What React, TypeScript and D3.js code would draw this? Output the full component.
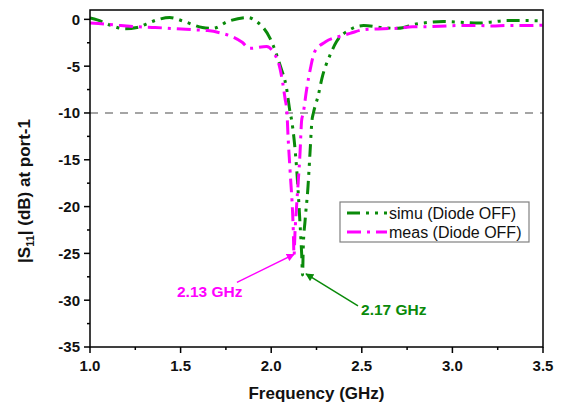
import React from "react";
import * as d3 from "d3";

const simuFreq = [1.0, 1.04, 1.11, 1.19, 1.26, 1.31, 1.37, 1.44, 1.52, 1.62, 1.68, 1.76, 1.87, 1.92, 1.993, 2.049, 2.085, 2.104, 2.113, 2.141, 2.159, 2.168, 2.173, 2.177, 2.187, 2.203, 2.214, 2.225, 2.233, 2.26, 2.28, 2.325, 2.36, 2.435, 2.51, 2.62, 2.70, 2.80, 2.88, 2.95, 3.04, 3.14, 3.21, 3.30, 3.39, 3.5];
const simuDb = [0.15, -0.05, -0.6, -1.0, -0.87, -0.5, -0.05, 0.2, -0.23, -0.87, -0.95, -0.23, 0.2, -0.24, -2.0, -4.9, -7.4, -9.9, -10.8, -16.1, -21.8, -25.0, -27.3, -24.3, -21.5, -17.9, -14.3, -10.8, -10.0, -8.1, -6.3, -3.8, -2.4, -1.1, -0.66, -0.9, -0.95, -0.5, -0.3, -0.23, -0.3, -0.4, -0.3, -0.13, -0.13, -0.16];

const measFreq = [1.0, 1.08, 1.17, 1.27, 1.36, 1.47, 1.56, 1.65, 1.73, 1.78, 1.84, 1.88, 1.975, 2.01, 2.049, 2.076, 2.087, 2.093, 2.104, 2.122, 2.126, 2.131, 2.141, 2.159, 2.168, 2.177, 2.195, 2.217, 2.24, 2.30, 2.38, 2.435, 2.51, 2.62, 2.70, 2.78, 2.88, 2.97, 3.04, 3.14, 3.22, 3.30, 3.39, 3.5];
const measDb = [-0.4, -0.5, -0.66, -0.8, -0.87, -1.0, -1.1, -1.2, -1.5, -1.8, -2.45, -3.1, -2.9, -3.45, -5.3, -8.4, -10.0, -12.5, -16.1, -22.6, -25.2, -22.9, -19.7, -14.3, -10.8, -10.0, -7.55, -5.2, -3.45, -2.4, -1.8, -1.5, -1.1, -1.0, -0.95, -0.8, -0.77, -0.7, -0.66, -0.66, -0.7, -0.66, -0.66, -0.62];

const xTicks = [1.0, 1.5, 2.0, 2.5, 3.0, 3.5];
const xMinor = [1.25, 1.75, 2.25, 2.75, 3.25];
const yTicks = [0, -5, -10, -15, -20, -25, -30, -35];
const yMinor = [-2.5, -7.5, -12.5, -17.5, -22.5, -27.5, -32.5];
const seriesNames = ["simu (Diode OFF)", "meas (Diode OFF)"];
const refLevel = -10;
const annoMeas = { tip: [2.126, -25.1], tail: [1.811, -28.1], text: [1.48, -29.7], label: "2.13 GHz" };
const annoSimu = { tip: [2.192, -27.2], tail: [2.479, -30.6], text: [2.496, -31.6], label: "2.17 GHz" };

const GREEN = "#0a8a0a";
const MAGENTA = "#ff00ff";
const FONT = "'Liberation Sans', Arial, sans-serif";

export default function App() {
  const L = 90, R = 543, T = 10, B = 347;
  const x = d3.scaleLinear().domain([1, 3.5]).range([L, R]);
  const y = d3.scaleLinear().domain([-35, 1]).range([B, T]);
  const line = d3.line<[number, number]>().x(d => x(d[0])).y(d => y(d[1])).curve(d3.curveMonotoneX);
  const simuPts = simuFreq.map((f, i) => [f, simuDb[i]] as [number, number]);
  const measPts = measFreq.map((f, i) => [f, measDb[i]] as [number, number]);
  const greenDash = "13,6,3,6,3,6";
  const magDash = "14,6,3,6";

  const arrow = (a: any, color: string, id: string) => (
    <g>
      <line x1={x(a.tail[0])} y1={y(a.tail[1])} x2={x(a.tip[0])} y2={y(a.tip[1])} stroke={color} strokeWidth={1.5} markerEnd={`url(#${id})`} />
      <text x={x(a.text[0])} y={y(a.text[1])} fill={color} fontFamily={FONT} fontWeight="bold" fontSize={15.5}>{a.label}</text>
    </g>
  );

  return (
    <svg width={564} height={407} style={{ position: "absolute", left: 0, top: 0, background: "#fff" }}>
      <defs>
        <marker id="arrM" viewBox="0 0 10 10" refX="9" refY="5" markerWidth="9" markerHeight="8" markerUnits="userSpaceOnUse" orient="auto">
          <path d="M0,0 L10,5 L0,10 z" fill={MAGENTA} />
        </marker>
        <marker id="arrG" viewBox="0 0 10 10" refX="9" refY="5" markerWidth="9" markerHeight="8" markerUnits="userSpaceOnUse" orient="auto">
          <path d="M0,0 L10,5 L0,10 z" fill={GREEN} />
        </marker>
        <clipPath id="clip"><rect x={L} y={T} width={R - L} height={B - T} /></clipPath>
      </defs>
      <rect x={0} y={0} width={564} height={407} fill="#fff" />
      <line x1={L} x2={R} y1={y(refLevel)} y2={y(refLevel)} stroke="#888" strokeWidth={1.5} strokeDasharray="8,7" />
      <g clipPath="url(#clip)">
        <path d={line(simuPts) || ""} fill="none" stroke={GREEN} strokeWidth={3} strokeDasharray={greenDash} />
        <path d={line(measPts) || ""} fill="none" stroke={MAGENTA} strokeWidth={3} strokeDasharray={magDash} />
      </g>
      <rect x={L} y={T} width={R - L} height={B - T} fill="none" stroke="#000" strokeWidth={1.5} />
      {xTicks.map(t => (
        <g key={"x" + t}>
          <line x1={x(t)} x2={x(t)} y1={B} y2={B + 6} stroke="#000" strokeWidth={1.5} />
          <text x={x(t)} y={371} textAnchor="middle" fontFamily={FONT} fontWeight="bold" fontSize={15} fill="#111">{t.toFixed(1)}</text>
        </g>
      ))}
      {xMinor.map(t => <line key={"xm" + t} x1={x(t)} x2={x(t)} y1={B} y2={B + 3} stroke="#000" strokeWidth={1.5} />)}
      {yTicks.map(t => (
        <g key={"y" + t}>
          <line x1={L - 6} x2={L} y1={y(t)} y2={y(t)} stroke="#000" strokeWidth={1.5} />
          <text x={80} y={y(t)} dy="0.36em" textAnchor="end" fontFamily={FONT} fontWeight="bold" fontSize={15} fill="#111">{t}</text>
        </g>
      ))}
      {yMinor.map(t => <line key={"ym" + t} x1={L - 3} x2={L} y1={y(t)} y2={y(t)} stroke="#000" strokeWidth={1.5} />)}
      <text x={(L + R) / 2} y={399} textAnchor="middle" fontFamily={FONT} fontWeight="bold" fontSize={17} fill="#111">Frequency (GHz)</text>
      <text transform="translate(30,191) rotate(-90)" textAnchor="middle" fontFamily={FONT} fontWeight="bold" fontSize={17} fill="#111">
        |S<tspan fontSize={11} dy={4}>11</tspan><tspan dy={-4}>| (dB) at port-1</tspan>
      </text>
      {arrow(annoMeas, MAGENTA, "arrM")}
      {arrow(annoSimu, GREEN, "arrG")}
      <g>
        <rect x={340} y={202} width={189} height={40} fill="#fff" stroke="#808080" strokeWidth={1.2} />
        <line x1={347} x2={387} y1={213} y2={213} stroke={GREEN} strokeWidth={3} strokeDasharray={greenDash} />
        <text x={389} y={218.5} fontFamily={FONT} fontSize={16} fill="#111">{seriesNames[0]}</text>
        <line x1={347} x2={387} y1={232} y2={232} stroke={MAGENTA} strokeWidth={3} strokeDasharray={magDash} />
        <text x={389} y={237.5} fontFamily={FONT} fontSize={16} fill="#111">{seriesNames[1]}</text>
      </g>
    </svg>
  );
}
